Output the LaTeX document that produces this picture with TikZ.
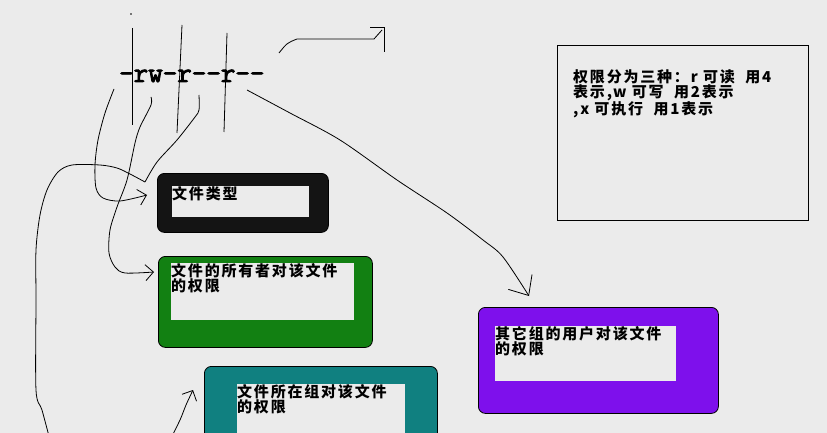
\documentclass[tikz,border=0pt]{standalone}
\usepackage{fontspec}
\newfontfamily\cjk[LetterSpace=12]{Noto Sans CJK SC}
\newfontfamily\permfont[FakeBold=3]{Latin Modern Mono}
\usetikzlibrary{arrows.meta}
\definecolor{paper}{RGB}{235,235,235}
\definecolor{typec}{RGB}{20,20,20}
\definecolor{ownerc}{RGB}{18,128,18}
\definecolor{groupc}{RGB}{16,128,128}
\definecolor{otherc}{RGB}{126,16,236}

\begin{document}
\begin{tikzpicture}[x=1pt,y=-1pt]
      \tikzstyle{frame} = [rectangle, rounded corners=7pt, draw=black, line width=0.8pt, anchor=north west, inner sep=0pt]
      \tikzstyle{hole} = [rectangle, fill=paper, anchor=north west, inner sep=0pt]
      \tikzstyle{boxtext} = [anchor=north west, inner sep=0pt, align=left, font=\cjk\bfseries\fontsize{15}{15}\selectfont]
      \tikzstyle{stroke} = [line width=0.8pt]
      \tikzstyle{arrow} = [line width=0.8pt, -{Straight Barb[length=8pt,width=16pt]}]

      \fill[paper] (0,0) rectangle (827,433);
      \clip (0,0) rectangle (827,433);

      \node (perm) [anchor=base west, inner sep=0pt, font=\permfont\fontsize{28.2}{30}\selectfont] at (119,82) {-rw-r--r--};

      \node (typebox) [frame, fill=typec, minimum width=171pt, minimum height=59pt] at (157,173) {};
      \node (typehole) [hole, minimum width=137pt, minimum height=31pt] at (172,186) {};
      \node (typetext) [boxtext] at (typehole.north west) {文件类型};

      \node (ownerbox) [frame, fill=ownerc, minimum width=214pt, minimum height=91pt] at (158,256) {};
      \node (ownerhole) [hole, minimum width=183pt, minimum height=57pt] at (171,263) {};
      \node (ownertext) [boxtext] at (ownerhole.north west) {文件的所有者对该文件\\的权限};

      \node (groupbox) [frame, fill=groupc, minimum width=233pt, minimum height=90pt] at (204,366) {};
      \node (grouphole) [hole, minimum width=168pt, minimum height=60pt] at (237,384) {};
      \node (grouptext) [boxtext] at (grouphole.north west) {文件所在组对该文件\\的权限};

      \node (otherbox) [frame, fill=otherc, minimum width=240pt, minimum height=106pt] at (478,307) {};
      \node (otherhole) [hole, minimum width=181pt, minimum height=55pt] at (495,326) {};
      \node (othertext) [boxtext] at (otherhole.north west) {其它组的用户对该文件\\的权限};

      \node (note) [rectangle, draw=black, line width=0.8pt, anchor=north west, minimum width=251pt, minimum height=175pt] at (557,45) {};
      \node (notetext) [boxtext, font=\cjk\bfseries\fontsize{15}{14}\selectfont] at (573,69) {权限分为三种：r 可读 \ 用4\\表示,w 可写 \ 用2表示\\,x 可执行 \ 用1表示};

      % strokes through the letters
      \fill (131,14) circle (0.8);
      \draw[stroke] (132,28) -- (132,125);
      \draw[stroke] (182,25) -- (177,133);
      \draw[stroke] (227,33) -- (224,132);

      % hook at the top
      \draw[stroke] (279,53) .. controls (287,43) .. (297,39) -- (374,39) -- (382,30);
      \draw[stroke] (370,27) -- (384,27) -- (384,52);

      \coordinate (c-start) at (114,89);
      \coordinate (c-end) at (147,195);
      \coordinate (d-start) at (151,97);
      \coordinate (d-end) at (154,272);
      \coordinate (e-start) at (199,95);
      \coordinate (e-end) at (145,182);
      \coordinate (f-end) at (50,440);
      \coordinate (g-start) at (170,440);
      \coordinate (g-end) at (193,390);
      \coordinate (b-start) at (247,90);
      \coordinate (b-end) at (529,296);

      \draw [arrow] plot[smooth] coordinates {(c-start) (105,113) (98,140) (95,165) (96,188) (103,198) (120,201) (c-end)};
      \draw [arrow] plot[smooth] coordinates {(d-start) (151,105) (140,127) (135,143) (127,180) (117,207) (110,230) (109,253) (115,267) (125,273) (d-end)};
      \draw [stroke] plot[smooth] coordinates {(e-start) (199,110) (195,117) (177,140) (157,162) (e-end)};
      \draw [stroke] plot[smooth] coordinates {(e-end) (130,174) (117,168) (100,165) (72,165) (58,172) (47,190) (40,215) (36,250) (36,300) (36,390) (42,410) (f-end)};
      \draw [arrow] plot[smooth] coordinates {(g-start) (180,420) (186,405) (g-end)};
      \draw [arrow, -{Straight Barb[length=16pt,width=28pt]}] plot[smooth] coordinates {(b-start) (290,113) (340,140) (397,180) (447,213) (483,240) (503,257) (b-end)};
\end{tikzpicture}
\end{document}
